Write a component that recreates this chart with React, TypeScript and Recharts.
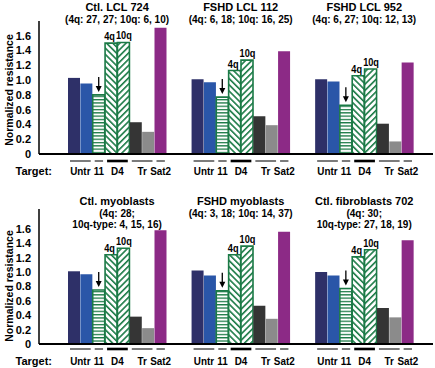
import React from "react";
import { BarChart, Bar, XAxis, YAxis, Cell, LabelList } from "recharts";

// ---------- data ----------
const barNames = ["Untr a", "Untr b", "11", "D4 4q", "D4 10q", "Tr a", "Tr b", "Sat2"];
const targetGroups: Record<number, { label: string; span: number }> = {
  0: { label: "Untr", span: 2 },
  2: { label: "11", span: 1 },
  3: { label: "D4", span: 2 },
  5: { label: "Tr", span: 2 },
  7: { label: "Sat2", span: 1 },
};
const yTicks = [0, 0.2, 0.4, 0.6, 0.8, 1.0, 1.2, 1.4, 1.6];

const ctlLcl724 = [1.03, 0.955, 0.8, 1.5, 1.51, 0.43, 0.3, 1.71];
const fshdLcl112 = [1.01, 0.97, 0.77, 1.13, 1.27, 0.51, 0.39, 1.39];
const fshdLcl952 = [1.01, 0.98, 0.66, 1.06, 1.15, 0.41, 0.17, 1.24];
const ctlMyoblasts = [1.01, 0.97, 0.75, 1.24, 1.33, 0.38, 0.22, 1.58];
const fshdMyoblasts = [1.02, 0.95, 0.74, 1.24, 1.36, 0.53, 0.35, 1.56];
const ctlFibroblasts702 = [1.0, 0.95, 0.77, 1.21, 1.31, 0.5, 0.37, 1.44];

const topTitles = [
  ["Ctl. LCL 724", "(4q: 27, 27; 10q: 6, 10)"],
  ["FSHD LCL 112", "(4q: 6, 18; 10q: 16, 25)"],
  ["FSHD LCL 952", "(4q: 6, 27; 10q: 12, 13)"],
];
const bottomTitles = [
  ["Ctl. myoblasts", "(4q: 28;", "10q-type: 4, 15, 16)"],
  ["FSHD myoblasts", "(4q: 3, 18; 10q: 14, 37)"],
  ["Ctl. fibroblasts 702", "(4q: 30;", "10q-type: 27, 18, 19)"],
];

// ---------- styles ----------
const FONT = "'Liberation Sans', Arial, sans-serif";
const GREEN = "#1b7a46";
const fills = [
  "#2e3068",
  "#2a56a8",
  "url(#hstripe)",
  "url(#hatchBack)",
  "url(#hatchFwd)",
  "#353535",
  "#8b8b8b",
  "#8c2a86",
];
const W = 435;
const PLOT_LEFT = 39;
const PLOT_RIGHT = 433;
const PAD_L = 29;
const PAD_R = 19;
const GAP_SLOTS = 2;

type Slot = { key: string; v: number | null; s: number; p: number };

function buildRow(panels: number[][], row: number): Slot[] {
  const out: Slot[] = [];
  panels.forEach((vals, p) => {
    if (p > 0) {
      for (let g = 0; g < GAP_SLOTS; g++) out.push({ key: `r${row}g${p}${g}`, v: null, s: -1, p });
    }
    vals.forEach((v, s) => out.push({ key: `r${row}p${p}s${s}`, v, s, p }));
  });
  return out;
}

const row1 = buildRow([ctlLcl724, fshdLcl112, fshdLcl952], 1);
const row2 = buildRow([ctlMyoblasts, fshdMyoblasts, ctlFibroblasts702], 2);
const BW = (PLOT_RIGHT - PLOT_LEFT - PAD_L - PAD_R) / row1.length;

const boldText = { fontFamily: FONT, fontWeight: 700 as const, fill: "#000" };

function makeTick(rowData: Slot[], ulDy: number, txtDy: number) {
  return (props: any) => {
    const { x, y, payload } = props;
    const d = rowData.find((r) => r.key === payload.value);
    if (!d || d.s < 0) return <g />;
    const t = targetGroups[d.s];
    if (!t) return <g />;
    const cx = x + ((t.span - 1) * BW) / 2;
    const half = (t.span * BW) / 2;
    const isD4 = t.label === "D4";
    return (
      <g>
        <line
          x1={cx - half + 2}
          x2={cx + half - 2}
          y1={y + ulDy}
          y2={y + ulDy}
          stroke={isD4 ? "#000" : "#333"}
          strokeWidth={isD4 ? 2.6 : 1.3}
        />
        <g transform={`translate(${cx},${y + txtDy}) scale(0.86,1)`}>
          <text x={0} y={0} textAnchor="middle" fontSize={11.5} {...boldText}>
            {t.label}
          </text>
        </g>
      </g>
    );
  };
}

function makeLabel(rowData: Slot[], titles: string[][], titleYs: number[]) {
  return (props: any) => {
    const vb = props.viewBox || props;
    const x = Number(props.x ?? vb.x);
    const y = Number(props.y ?? vb.y);
    const width = Number(props.width ?? vb.width);
    const d = rowData.find((r) => r.key === props.value);
    if (!d || d.s < 0 || isNaN(x)) return null;
    const cx = x + width / 2;
    if (d.s === 2) {
      const top = y - 18;
      const bot = y - 3;
      return (
        <g>
          <line x1={cx} x2={cx} y1={top} y2={bot - 5} stroke="#000" strokeWidth={1.3} />
          <polygon points={`${cx - 3},${bot - 6} ${cx + 3},${bot - 6} ${cx},${bot}`} fill="#000" />
        </g>
      );
    }
    if (d.s === 3) {
      const tt = titles[d.p];
      const gx = x + width;
      return (
        <g>
          <g transform={`translate(${cx - 1.5},${y - 3}) scale(0.8,1)`}>
            <text x={0} y={0} textAnchor="middle" fontSize={11.5} {...boldText}>
              4q
            </text>
          </g>
          {tt.map((line, i) => (
            <text
              key={i}
              x={gx}
              y={titleYs[i]}
              textAnchor="middle"
              fontSize={i === 0 ? 11 : 10}
              {...boldText}
            >
              {line}
            </text>
          ))}
        </g>
      );
    }
    if (d.s === 4) {
      return (
        <g transform={`translate(${cx + 0.5},${y - 3}) scale(0.8,1)`}>
          <text x={0} y={0} textAnchor="middle" fontSize={11.5} {...boldText}>
            10q
          </text>
        </g>
      );
    }
    return null;
  };
}

function Row({
  data,
  height,
  top,
  plotTop,
  xAxisH,
  ymax,
  titles,
  titleYs,
  ulDy,
  txtDy,
}: {
  data: Slot[];
  height: number;
  top: number;
  plotTop: number;
  xAxisH: number;
  ymax: number;
  titles: string[][];
  titleYs: number[];
  ulDy: number;
  txtDy: number;
}) {
  const withLab = data.map((d) => ({ ...d, lab: d.key }));
  return (
    <div style={{ position: "absolute", left: 0, top }}>
      <BarChart
        width={W}
        height={height}
        data={withLab}
        margin={{ top: plotTop, right: W - PLOT_RIGHT, bottom: 0, left: 0 }}
        barCategoryGap={0}
        barGap={0}
      >
        <XAxis
          dataKey="key"
          interval={0}
          tickLine={false}
          tickSize={0}
          tickMargin={0}
          axisLine={{ stroke: "#000", strokeWidth: 2 }}
          padding={{ left: PAD_L, right: PAD_R }}
          height={xAxisH}
          tick={makeTick(data, ulDy, txtDy)}
        />
        <YAxis
          width={PLOT_LEFT}
          domain={[0, ymax]}
          ticks={yTicks}
          interval={0}
          tickLine={false}
          tickSize={0}
          tickMargin={8}
          axisLine={{ stroke: "#000", strokeWidth: 1.5 }}
          tick={{ fontSize: 11, fontFamily: FONT, fontWeight: 700, fill: "#000" }}
          tickFormatter={(v: number) => (v === 0 ? "0" : v.toFixed(1))}
        />
        <Bar dataKey="v" isAnimationActive={false}>
          {withLab.map((d) => (
            <Cell
              key={d.key}
              fill={d.s >= 0 ? fills[d.s] : "none"}
              stroke={d.s >= 2 && d.s <= 4 ? GREEN : "none"}
              strokeWidth={d.s >= 2 && d.s <= 4 ? 1.6 : 0}
            />
          ))}
          <LabelList dataKey="lab" content={makeLabel(data, titles, titleYs)} />
        </Bar>
      </BarChart>
    </div>
  );
}

export default function App() {
  return (
    <div
      style={{
        position: "absolute",
        left: 0,
        top: 0,
        width: W,
        height: 368,
        background: "#fff",
        overflow: "hidden",
      }}
    >
      <svg width={0} height={0} style={{ position: "absolute" }}>
        <defs>
          <pattern id="hstripe" patternUnits="userSpaceOnUse" width={6} height={3.3}>
            <rect width={6} height={3.3} fill="#fff" />
            <rect y={0} width={6} height={1.3} fill={GREEN} />
          </pattern>
          <pattern
            id="hatchBack"
            patternUnits="userSpaceOnUse"
            width={4.4}
            height={10}
            patternTransform="rotate(-45)"
          >
            <rect width={4.4} height={10} fill="#fff" />
            <rect x={0} width={1.6} height={10} fill={GREEN} />
          </pattern>
          <pattern
            id="hatchFwd"
            patternUnits="userSpaceOnUse"
            width={4.4}
            height={10}
            patternTransform="rotate(45)"
          >
            <rect width={4.4} height={10} fill="#fff" />
            <rect x={0} width={1.6} height={10} fill={GREEN} />
          </pattern>
        </defs>
      </svg>
      <Row
        data={row1}
        height={182}
        top={0}
        plotTop={21}
        xAxisH={28}
        ymax={1.8}
        titles={topTitles}
        titleYs={[11, 23]}
        ulDy={7}
        txtDy={21}
      />
      <Row
        data={row2}
        height={186}
        top={182}
        plotTop={27}
        xAxisH={24}
        ymax={1.875}
        titles={bottomTitles}
        titleYs={[23, 35, 46]}
        ulDy={5}
        txtDy={21}
      />
      <svg
        width={W}
        height={368}
        style={{ position: "absolute", left: 0, top: 0, pointerEvents: "none" }}
      >
        <text transform="translate(13,90) rotate(-90)" textAnchor="middle" fontSize={10.5} {...boldText}>
          Normalized resistance
        </text>
        <text transform="translate(13,286) rotate(-90)" textAnchor="middle" fontSize={10.5} {...boldText}>
          Normalized resistance
        </text>
        <text x={52} y={175} textAnchor="end" fontSize={11} {...boldText}>
          Target:
        </text>
        <text x={52} y={365} textAnchor="end" fontSize={11} {...boldText}>
          Target:
        </text>
      </svg>
    </div>
  );
}
